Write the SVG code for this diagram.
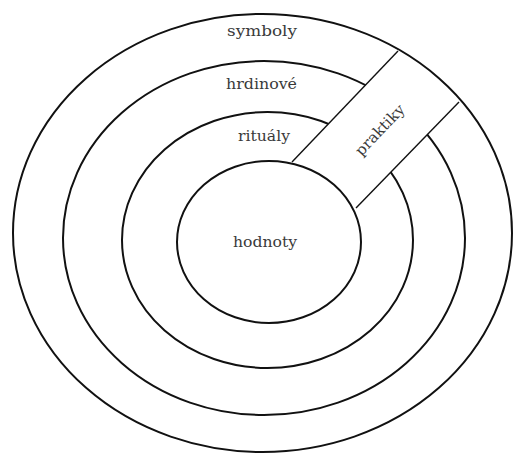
<svg xmlns="http://www.w3.org/2000/svg" width="513" height="454" viewBox="0 0 513 454">
<style>
.ring{fill:none;stroke:#111;stroke-width:2}
.edge{fill:none;stroke:#111;stroke-width:1.4}
text{font-family:'DejaVu Serif',serif;font-size:15px;fill:#3a3a3a;text-anchor:middle}
</style>
<rect width="513" height="454" fill="#fff"/>
<g id="hrdinove">
<ellipse class="ring" cx="264" cy="238" rx="201" ry="177"/>
</g>
<g id="ritualy">
<ellipse class="ring" cx="267.5" cy="240" rx="145.5" ry="128"/>
</g>
<g id="praktiky">
<polygon points="292,162 398,51 459,102 356,208" fill="#fff" stroke="none"/>
<line class="edge" x1="292" y1="162" x2="398" y2="51"/>
<line class="edge" x1="356" y1="208" x2="459" y2="102"/>
<text transform="translate(380,130) rotate(-46.5)" x="0" y="5" textLength="64" lengthAdjust="spacingAndGlyphs">praktiky</text>
</g>
<g id="symboly">
<ellipse class="ring" cx="262.5" cy="233" rx="249.5" ry="219"/>
</g>
<g id="hodnoty">
<ellipse class="ring" cx="269" cy="242" rx="92" ry="81"/>
</g>
<g id="labels">
<text x="262" y="36" textLength="70" lengthAdjust="spacingAndGlyphs">symboly</text>
<text x="261.5" y="89" textLength="71" lengthAdjust="spacingAndGlyphs">hrdinové</text>
<text x="264" y="141" textLength="52" lengthAdjust="spacingAndGlyphs">rituály</text>
<text x="265" y="247" textLength="64" lengthAdjust="spacingAndGlyphs">hodnoty</text>
</g>
</svg>
